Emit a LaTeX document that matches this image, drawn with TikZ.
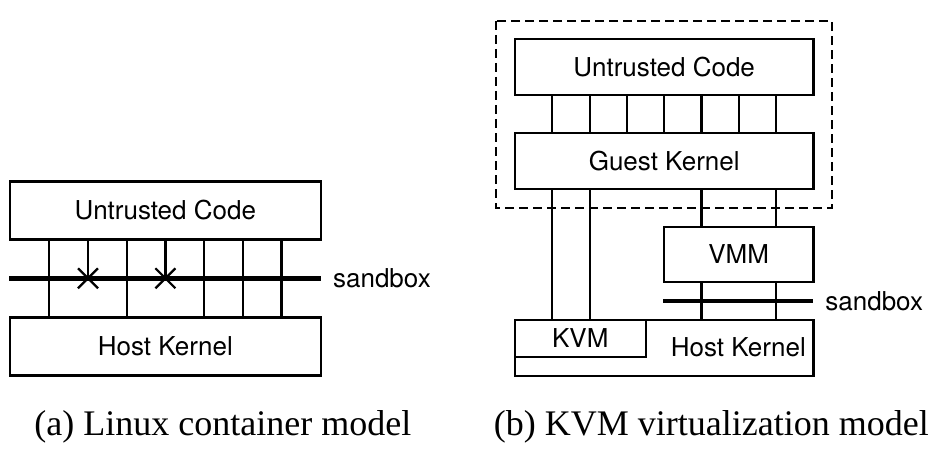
\documentclass[tikz,border=0pt]{standalone}
\usepackage{fontspec}
\setmainfont{Liberation Serif}
\newfontfamily\boxfont{TeX Gyre Heros}
\usetikzlibrary{positioning}

\begin{document}
\begin{tikzpicture}[x=0.5pt, y=-0.5pt,
    layer/.style={draw, line width=1.1pt, inner sep=0pt, outer sep=0pt, font=\boxfont\fontsize{13}{15}\selectfont},
    tag/.style={inner sep=0pt, font=\boxfont\fontsize{13}{15}\selectfont},
    call/.style={line width=1.1pt},
    barrier/.style={line width=2.3pt},
    caption/.style={font=\fontsize{18}{21}\selectfont, anchor=base}]
    \useasboundingbox (0,0) rectangle (952,449);

    % (a) Linux container model
    \node[layer, minimum width=155.3pt, minimum height=29pt] (ucA) at (165.3,210.5) {Untrusted Code};
    \node[layer, minimum width=155.3pt, minimum height=29pt] (hkA) at (165.3,346.5) {Host Kernel};
    \node[tag, anchor=west] (sbA) at (332.7,278.3) {sandbox};
    \coordinate (sbAw) at (9,278.3);

    % syscalls that pass
    \foreach \x in {49.3,126.7,204.1,242.8,281.5}
        \draw[call] (ucA.south -| \x,0) -- (hkA.north -| \x,0);
    % syscalls that are blocked
    \foreach \x in {88,165.4} {
        \draw[call] (ucA.south -| \x,0) -- (\x,278.3);
        \draw[call] (\x-10,268.3) -- (\x+10,288.3) (\x-10,288.3) -- (\x+10,268.3);
    }
    \draw[barrier] (sbAw) -- (sbA.west -| hkA.east);

    % (b) KVM virtualization model
    \draw[call, dash pattern=on 4.5pt off 2.5pt] (496,21) rectangle (832.3,207.7);
    \node[layer, minimum width=149.2pt, minimum height=28pt] (ucB) at (664.2,67.3) {Untrusted Code};
    \node[layer, minimum width=149.2pt, minimum height=27.7pt] (gkB) at (664.2,161) {Guest Kernel};
    \node[layer, minimum width=74.7pt, minimum height=27.7pt] (vmm) at (738.7,254.3) {VMM};
    \node[layer, minimum width=149.2pt, minimum height=27.8pt] (hkB) at (664.2,347.8) {};
    \node[layer, minimum width=65.3pt, minimum height=18.3pt, anchor=north west] (kvm) at (hkB.north west) {KVM};
    \node[tag] (hkBl) at (738.3,347.3) {Host Kernel};
    \node[tag, anchor=west] (sbB) at (825,301) {sandbox};
    \coordinate (sbBw) at (663.3,301);

    % guest syscalls
    \foreach \x in {552.3,589.6,626.9,664.2,701.5,738.8,776.1}
        \draw[call] (ucB.south -| \x,0) -- (gkB.north -| \x,0);
    % guest kernel to KVM
    \foreach \x in {552.3,589.6}
        \draw[call] (gkB.south -| \x,0) -- (kvm.north -| \x,0);
    % guest kernel to VMM to host
    \foreach \x in {701.5,776.1} {
        \draw[call] (gkB.south -| \x,0) -- (vmm.north -| \x,0);
        \draw[call] (vmm.south -| \x,0) -- (hkB.north -| \x,0);
    }
    \draw[barrier] (sbBw) -- (sbB.west -| vmm.east);

    % captions
    \node[caption] (capA) at (222.8,435) {(a) Linux container model};
    \node[caption] (capB) at (711.3,435) {(b) KVM virtualization model};
\end{tikzpicture}
\end{document}
